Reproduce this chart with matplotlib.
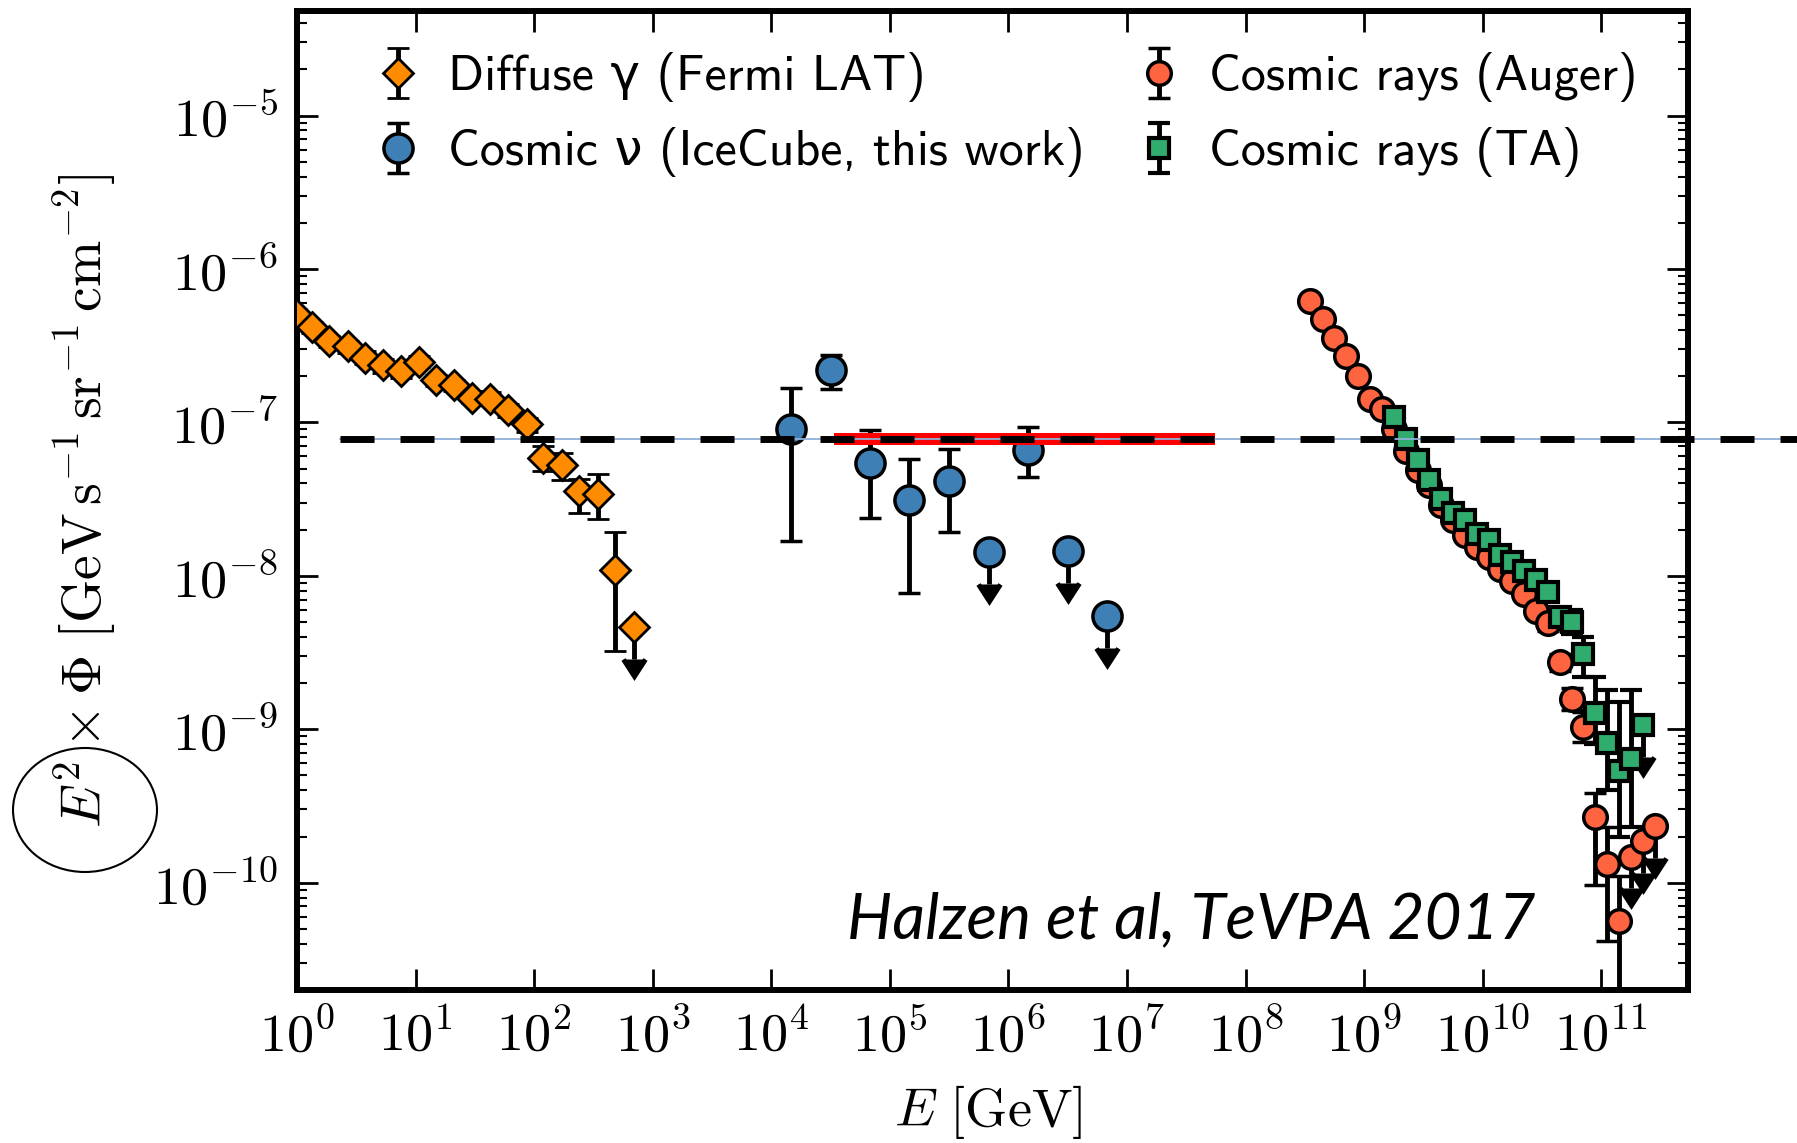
import numpy as np
import matplotlib
matplotlib.use('Agg')
import matplotlib.pyplot as plt
import matplotlib.ticker as ticker
from matplotlib.patches import Ellipse

plt.rcParams['mathtext.fontset'] = 'cm'
plt.rcParams['axes.unicode_minus'] = False
plt.rcParams['lines.scale_dashes'] = False

# Fermi LAT diffuse gamma
fermi_E = [0.98, 1.34, 1.87, 2.67, 3.77, 5.34, 7.53, 10.7, 14.9, 21.2, 29.7, 42.4, 60.5, 86.4,
           118, 171, 240, 343, 483]
fermi_flux = [5.1e-7, 4.18e-7, 3.39e-7, 3.13e-7, 2.64e-7, 2.35e-7, 2.16e-7, 2.49e-7, 1.88e-7,
              1.74e-7, 1.45e-7, 1.43e-7, 1.20e-7, 9.7e-8, 5.9e-8, 5.3e-8, 3.56e-8, 3.43e-8, 1.09e-8]
fermi_lo = [4.7e-7, 3.85e-7, 3.1e-7, 2.85e-7, 2.4e-7, 2.1e-7, 1.95e-7, 2.3e-7, 1.72e-7,
            1.6e-7, 1.33e-7, 1.3e-7, 1.08e-7, 8.7e-8, 4.8e-8, 4.2e-8, 2.58e-8, 2.33e-8, 3.24e-9]
fermi_hi = [5.5e-7, 4.5e-7, 3.65e-7, 3.4e-7, 2.9e-7, 2.6e-7, 2.4e-7, 2.7e-7, 2.05e-7,
            1.9e-7, 1.6e-7, 1.57e-7, 1.32e-7, 1.07e-7, 7.0e-8, 6.3e-8, 4.3e-8, 4.64e-8, 1.93e-8]
fermi_ul_E = [690]
fermi_ul_flux = [4.64e-9]

# IceCube cosmic neutrinos
ic_E = [1.46e4, 3.16e4, 6.8e4, 1.46e5, 3.16e5, 1.46e6]
ic_flux = [9.0e-8, 2.18e-7, 5.46e-8, 3.13e-8, 4.15e-8, 6.64e-8]
ic_lo = [1.69e-8, 1.66e-7, 2.38e-8, 7.73e-9, 1.93e-8, 4.4e-8]
ic_hi = [1.68e-7, 2.73e-7, 8.87e-8, 5.74e-8, 6.74e-8, 9.33e-8]
ic_ul_E = [6.8e5, 3.16e6, 6.8e6]
ic_ul_flux = [1.43e-8, 1.45e-8, 5.44e-9]

# Auger cosmic rays
auger_E = [3.5e8, 4.5e8, 5.6e8, 7.0e8, 8.9e8, 1.12e9, 1.41e9, 1.78e9, 2.24e9, 2.82e9, 3.55e9,
           4.47e9, 5.62e9, 7.08e9, 8.91e9, 1.12e10, 1.41e10, 1.78e10, 2.24e10, 2.82e10, 3.55e10,
           4.47e10, 5.62e10, 7.08e10, 8.91e10, 1.12e11, 1.41e11]
auger_flux = [6.17e-7, 4.74e-7, 3.57e-7, 2.69e-7, 2.0e-7, 1.43e-7, 1.23e-7, 9.0e-8, 6.5e-8, 4.9e-8,
              3.9e-8, 2.9e-8, 2.3e-8, 1.85e-8, 1.55e-8, 1.33e-8, 1.1e-8, 9.3e-9, 7.6e-9, 5.9e-9,
              4.9e-9, 2.74e-9, 1.58e-9, 1.04e-9, 2.69e-10, 1.33e-10, 5.6e-11]
auger_lo = [6.0e-7, 4.6e-7, 3.47e-7, 2.62e-7, 1.95e-7, 1.39e-7, 1.2e-7, 8.8e-8, 6.35e-8, 4.78e-8,
            3.8e-8, 2.82e-8, 2.23e-8, 1.79e-8, 1.5e-8, 1.28e-8, 1.05e-8, 8.8e-9, 7.1e-9, 5.4e-9,
            4.4e-9, 2.4e-9, 1.33e-9, 8.3e-10, 9.6e-11, 4.2e-11, 1e-13]
auger_hi = [6.34e-7, 4.88e-7, 3.67e-7, 2.76e-7, 2.05e-7, 1.47e-7, 1.26e-7, 9.2e-8, 6.65e-8, 5.02e-8,
            4.0e-8, 2.98e-8, 2.37e-8, 1.91e-8, 1.6e-8, 1.38e-8, 1.15e-8, 9.8e-9, 8.1e-9, 6.4e-9,
            5.4e-9, 3.1e-9, 1.85e-9, 1.3e-9, 3.85e-10, 2.3e-10, 1.1e-10]
auger_ul_E = [1.78e11, 2.24e11, 2.82e11]
auger_ul_flux = [1.48e-10, 1.87e-10, 2.35e-10]

# Telescope Array cosmic rays
ta_E = [1.78e9, 2.24e9, 2.82e9, 3.55e9, 4.47e9, 5.62e9, 7.08e9, 8.91e9, 1.12e10, 1.41e10, 1.78e10,
        2.24e10, 2.82e10, 3.55e10, 4.47e10, 5.62e10, 7.08e10, 8.91e10, 1.12e11, 1.41e11, 1.78e11]
ta_flux = [1.08e-7, 7.8e-8, 5.65e-8, 4.23e-8, 3.19e-8, 2.57e-8, 2.32e-8, 1.88e-8, 1.72e-8, 1.36e-8,
           1.23e-8, 1.07e-8, 9.35e-9, 7.84e-9, 5.4e-9, 5.0e-9, 3.1e-9, 1.28e-9, 8.15e-10, 5.35e-10,
           6.44e-10]
ta_lo = [1.03e-7, 7.45e-8, 5.4e-8, 4.04e-8, 3.04e-8, 2.45e-8, 2.2e-8, 1.78e-8, 1.62e-8, 1.28e-8,
         1.15e-8, 9.9e-9, 8.6e-9, 7.1e-9, 4.7e-9, 4.2e-9, 2.2e-9, 8.0e-10, 4.0e-10, 2.0e-10, 2.3e-10]
ta_hi = [1.13e-7, 8.15e-8, 5.9e-8, 4.42e-8, 3.34e-8, 2.69e-8, 2.44e-8, 1.98e-8, 1.82e-8, 1.44e-8,
         1.31e-8, 1.15e-8, 1.01e-8, 8.6e-9, 6.1e-9, 6.0e-9, 4.0e-9, 2.2e-9, 1.8e-9, 1.5e-9, 1.8e-9]
ta_ul_E = [2.24e11]
ta_ul_flux = [1.06e-9]

# red band and dashed reference level
band_E = [3.4e4, 5.5e7]
band_lo = 7.08e-8
band_hi = 8.52e-8
ref_E = [2.3, 1e14]
ref_flux = 7.75e-8

ul_frac = 0.38

labels = [r'Diffuse γ (Fermi LAT)', r'Cosmic ν (IceCube, this work)',
          'Cosmic rays (Auger)', 'Cosmic rays (TA)']


def yerr(flux, lo, hi):
    flux = np.array(flux)
    return [flux - np.array(lo), np.array(hi) - flux]


fig = plt.figure(figsize=[17.97, 11.43], dpi=100)
ax = fig.add_axes([0.1653, 0.1339, 0.7741, 0.8565])
ax.set_xscale('log')
ax.set_yscale('log')

eb = dict(ecolor='black', elinewidth=3.5, capsize=8, capthick=3.5)


def points(E, flux, lo, hi, z, **mk):
    return ax.errorbar(E, flux, yerr=yerr(flux, lo, hi), linestyle='none',
                       markeredgecolor='black', zorder=z, **mk, **eb)


def upper_limits(E, flux, z, **mk):
    c = ax.errorbar(E, flux, yerr=ul_frac * np.array(flux), uplims=True, fmt='none',
                    zorder=z - 0.5, **eb)
    for cl in c[1]:
        cl.set_markersize(16)
        cl.set_markerfacecolor('black')
        cl.set_markeredgecolor('black')
    ax.plot(E, flux, linestyle='none', markeredgecolor='black', zorder=z, **mk)


fermi_mk = dict(marker='D', ms=15, mfc='#ff8c00', mew=2)
ic_mk = dict(marker='o', ms=21, mfc='#3e80b6', mew=2.5)
auger_mk = dict(marker='o', ms=17, mfc='#ff6440', mew=2.5)
ta_mk = dict(marker='s', ms=15, mfc='#30ad6e', mew=3)

h_fermi = points(fermi_E, fermi_flux, fermi_lo, fermi_hi, 3, **fermi_mk)
upper_limits(fermi_ul_E, fermi_ul_flux, 3, **fermi_mk)
h_ic = points(ic_E, ic_flux, ic_lo, ic_hi, 3, **ic_mk)
upper_limits(ic_ul_E, ic_ul_flux, 3, **ic_mk)
h_auger = points(auger_E, auger_flux, auger_lo, auger_hi, 3, **auger_mk)
upper_limits(auger_ul_E, auger_ul_flux, 3, **auger_mk)
h_ta = points(ta_E, ta_flux, ta_lo, ta_hi, 4, **ta_mk)
upper_limits(ta_ul_E, ta_ul_flux, 4, **ta_mk)

ax.fill_between(band_E, band_lo, band_hi, color='red', lw=0, zorder=9)
ax.plot(ref_E, [ref_flux] * 2, color='#8fb0d8', lw=1.3, clip_on=False, zorder=10)
ax.plot(ref_E, [ref_flux] * 2, color='black', lw=5, dashes=(24.5, 18.7), clip_on=False, zorder=11)

ax.set_xlim(1, 5.4e11)
ax.set_ylim(2e-11, 4.8e-5)

fmt = ticker.FuncFormatter(lambda v, p: r'$\mathrm{10^{%d}}$' % int(round(np.log10(v))))
ax.xaxis.set_major_locator(ticker.LogLocator(base=10, numticks=30))
ax.yaxis.set_major_locator(ticker.LogLocator(base=10, numticks=30))
ax.xaxis.set_minor_locator(ticker.NullLocator())
ax.yaxis.set_minor_locator(ticker.LogLocator(base=10, subs=np.arange(2, 10), numticks=100))
ax.xaxis.set_major_formatter(fmt)
ax.yaxis.set_major_formatter(fmt)
ax.tick_params(which='both', direction='in', top=True, right=True)
ax.tick_params(which='major', length=15, width=2, labelsize=39, pad=14)
ax.tick_params(which='minor', length=7, width=1.5)
for s in ax.spines.values():
    s.set_linewidth(4.3)

ax.set_xlabel(r'$E\ [\mathrm{GeV}]$', fontsize=39)
ax.set_ylabel(r'$E^2\times\Phi\ [\mathrm{GeV\,s^{-1}\,sr^{-1}\,cm^{-2}}]$', fontsize=40)
ax.xaxis.set_label_coords(0.497, -0.095)
ax.yaxis.set_label_coords(-0.128, 0.5)

leg_kw = dict(loc='upper left', frameon=False, borderpad=0, borderaxespad=0,
              handlelength=1.0, handletextpad=0.5, labelspacing=0.5, numpoints=1,
              prop={'family': ['cmss10', 'DejaVu Sans'], 'size': 36})
leg1 = ax.legend([h_fermi, h_ic], labels[:2], bbox_to_anchor=(0.0543, 0.958), **leg_kw)
ax.add_artist(leg1)
ax.legend([h_auger, h_ta], labels[2:], bbox_to_anchor=(0.6014, 0.958), **leg_kw)

fig.text(0.6628, 0.195, 'Halzen et al, TeVPA 2017', fontstyle='italic', family='Lato',
         fontsize=46, ha='center', va='center')

fig.add_artist(Ellipse((85 / 1797, 1 - 810 / 1143), 144 / 1797, 124 / 1143,
                       transform=fig.transFigure, fill=False, lw=1.5, ec='black'))

fig.savefig('out.png', dpi=100)
